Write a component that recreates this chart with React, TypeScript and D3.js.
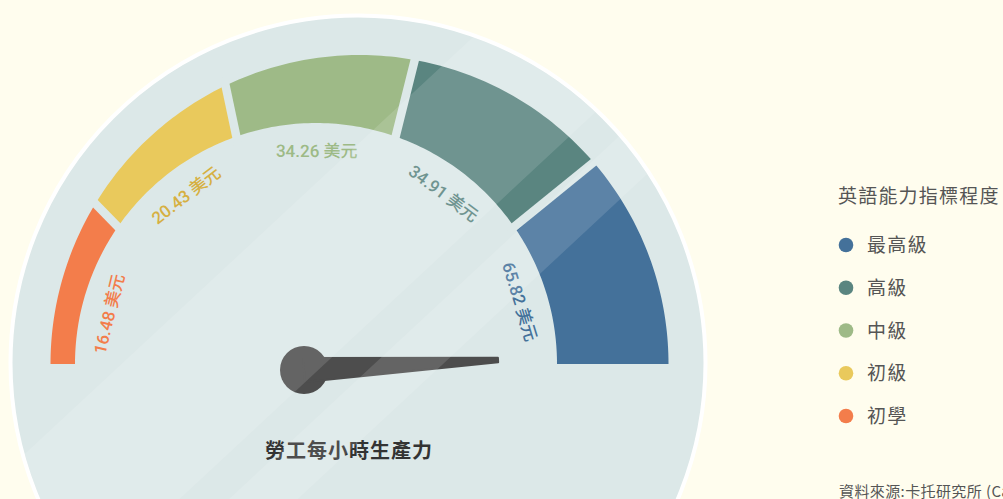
import { useMemo } from "react";
import * as d3 from "d3";

// 英語能力等級與每小時勞動生產力
const levels = ["初學", "初級", "中級", "高級", "最高級"];
const productivity = [16.48, 20.43, 34.26, 34.91, 65.82];
const levelColors = ["#f37d4b", "#e9c95c", "#9eba87", "#5a8580", "#44719a"];
const labelColors = ["#f37d4b", "#d6b042", "#9dba86", "#5a8580", "#44719a"];
const legendLevels = ["最高級", "高級", "中級", "初級", "初學"];
const needleLevel = 4.918; // 指針所在位置 (0 ~ 5 級)
const unit = "美元";
const gaugeTitle = "勞工每小時生產力";
const legendTitle = "英語能力指標程度";
const sourceNote = "資料來源:卡托研究所 (Cato Institute)";

const W = 1003;
const H = 499;

type Pt = [number, number];

const face = { x: 358, y: 363, r: 347.5 };
const outerC = { x: 359.5, y: 364, r: 309 };
const innerC = { x: 316, y: 364, r: 241 };
const hub = { x: 304, y: 370, r: 24 };

const rad = (deg: number) => (deg * Math.PI) / 180;
// 角度由左側水平線起算，順時針到右側為 180
const dir = (deg: number): Pt => [-Math.cos(rad(deg)), -Math.sin(rad(deg))];
const onCircle = (c: { x: number; y: number }, r: number, deg: number): Pt => {
  const d = dir(deg);
  return [c.x + r * d[0], c.y + r * d[1]];
};

function rayCircle(o: { x: number; y: number }, d: Pt, c: { x: number; y: number; r: number }): Pt {
  const fx = o.x - c.x;
  const fy = o.y - c.y;
  const b = fx * d[0] + fy * d[1];
  const cc = fx * fx + fy * fy - c.r * c.r;
  const t = -b + Math.sqrt(b * b - cc);
  return [o.x + t * d[0], o.y + t * d[1]];
}

const angleOf = (c: { x: number; y: number }, p: Pt) =>
  (Math.atan2(c.y - p[1], c.x - p[0]) * 180) / Math.PI;

const App = () => {
  const angle = useMemo(
    () => d3.scaleLinear().domain([0, levels.length]).range([0, 180]),
    []
  );

  const geo = useMemo(() => {
    const bounds = d3.range(levels.length + 1).map((i) => {
      const a = angle(i);
      const edge = i === 0 || i === levels.length;
      const outerPt = rayCircle(innerC, dir(a), outerC);
      let outerDeg = angleOf(outerC, outerPt);
      if (i === 0) outerDeg = 0;
      if (i === levels.length) outerDeg = 180;
      const innerDeg = edge ? a : a - 1.3 * Math.sign(90 - a);
      return { outerPt, outerDeg, innerDeg, innerPt: onCircle(innerC, innerC.r, innerDeg) };
    });

    const line = d3.line<Pt>();
    const segments = levels.map((name, i) => {
      const b0 = bounds[i];
      const b1 = bounds[i + 1];
      const outerArc = d3
        .range(41)
        .map((k) => onCircle(outerC, outerC.r, b0.outerDeg + ((b1.outerDeg - b0.outerDeg) * k) / 40));
      const innerArc = d3
        .range(41)
        .map((k) => onCircle(innerC, innerC.r, b1.innerDeg + ((b0.innerDeg - b1.innerDeg) * k) / 40));
      return { name, d: line([...outerArc, ...innerArc]) + "Z", color: levelColors[i] };
    });

    const gaps = bounds.slice(1, -1).map((b) => {
      const dx = b.outerPt[0] - b.innerPt[0];
      const dy = b.outerPt[1] - b.innerPt[1];
      const len = Math.hypot(dx, dy);
      const ux = dx / len;
      const uy = dy / len;
      return {
        x1: b.innerPt[0] - ux * 8,
        y1: b.innerPt[1] - uy * 8,
        x2: b.outerPt[0] + ux * 8,
        y2: b.outerPt[1] + uy * 8,
      };
    });

    const tweak = [-4.4, -1.6, 0.2, 0.8, 1];
    const labels = productivity.map((v, i) => {
      const a = (angle(i) + angle(i + 1)) / 2 + tweak[i];
      const [x, y] = onCircle(innerC, 213, a);
      return { x, y, rot: a - 90, text: `${v.toFixed(2)} ${unit}`, color: labelColors[i] };
    });

    // 指針
    const na = angle(needleLevel);
    const d = dir(na);
    const len = 194.3;
    const perp: Pt = [-d[1], d[0]];
    const tip: Pt = [hub.x + d[0] * len, hub.y + d[1] * len];
    const needle: Pt[] = [
      [hub.x + perp[0] * 12, hub.y + perp[1] * 12],
      [tip[0] + perp[0] * 2.3, tip[1] + perp[1] * 2.3],
      [tip[0] - perp[0] * 2.3, tip[1] - perp[1] * 2.3],
      [hub.x - perp[0] * 12, hub.y - perp[1] * 12],
    ];

    return { segments, gaps, labels, needle: line(needle) + "Z" };
  }, [angle]);

  // 斜向反光條紋
  const k = 0.93;
  const bands = [
    [477, 666],
    [712, 776],
  ].map(([lo, hi]) => {
    const x0 = -100;
    const x1 = 1100;
    return `M${x0},${lo - k * x0}L${x1},${lo - k * x1}L${x1},${hi - k * x1}L${x0},${hi - k * x0}Z`;
  });

  const legendY = d3
    .scalePoint()
    .domain(legendLevels)
    .range([245, 416]);
  const legendColor = d3.scaleOrdinal<string, string>().domain(levels).range(levelColors);

  return (
    <svg
      width={W}
      height={H}
      style={{ position: "fixed", left: 0, top: 0, display: "block" }}
    >
      <defs>
        <clipPath id="faceClip">
          <circle cx={face.x} cy={face.y} r={face.r - 2} />
        </clipPath>
      </defs>
      <rect width={W} height={H} fill="#fffdee" />

      <circle cx={face.x} cy={face.y} r={face.r} fill="#dce8e8" stroke="#ffffff" strokeWidth={4} />

      {geo.segments.map((s) => (
        <path key={s.name} d={s.d} fill={s.color} />
      ))}
      {geo.gaps.map((g, i) => (
        <line key={i} {...g} stroke="#dce8e8" strokeWidth={8.5} />
      ))}

      {geo.labels.map((l, i) => (
        <text
          key={i}
          transform={`translate(${l.x},${l.y}) rotate(${l.rot})`}
          textAnchor="middle"
          dominantBaseline="central"
          fill={l.color}
          fontSize={17}
          fontWeight={500}
          fontFamily="Roboto, 'Noto Sans CJK TC', sans-serif"
        >
          {l.text}
        </text>
      ))}

      <text
        x={349}
        y={458}
        textAnchor="middle"
        fontSize={20}
        fontWeight="bold"
        letterSpacing={1}
        fill="#333333"
        fontFamily="'Noto Sans CJK TC', sans-serif"
      >
        {gaugeTitle}
      </text>

      <circle cx={hub.x} cy={hub.y} r={hub.r} fill="#4d4d4d" />
      <path d={geo.needle} fill="#4d4d4d" stroke="#4d4d4d" strokeWidth={2} strokeLinejoin="round" />

      <g clipPath="url(#faceClip)">
        {bands.map((d, i) => (
          <path key={i} d={d} fill="#ffffff" opacity={0.13} />
        ))}
      </g>

      <g fontFamily="'Noto Sans CJK TC', sans-serif" fill="#555555">
        <text x={838} y={203} fontSize={19} letterSpacing={1.2}>
          {legendTitle}
        </text>
        {legendLevels.map((name) => (
          <g key={name} transform={`translate(0,${legendY(name)})`}>
            <circle cx={846} cy={0} r={7.3} fill={legendColor(name)} />
            <text x={867} y={7} fontSize={19} letterSpacing={1.2}>
              {name}
            </text>
          </g>
        ))}
        <text x={839} y={497} fontSize={15} letterSpacing={0.4}>
          {sourceNote}
        </text>
      </g>
    </svg>
  );
};

export default App;
